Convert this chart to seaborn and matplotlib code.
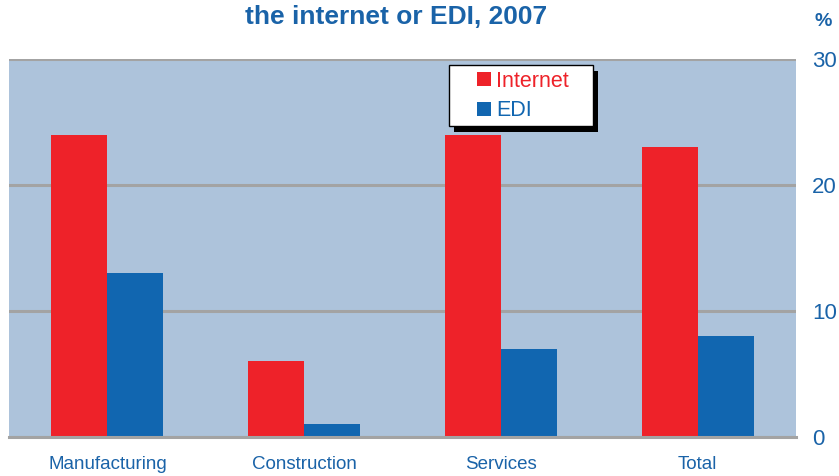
import matplotlib
matplotlib.use("Agg")
import matplotlib.pyplot as plt
import seaborn as sns
import pandas as pd
from matplotlib.patches import Patch, Rectangle

categories = ["Manufacturing", "Construction", "Services", "Total"]
internet = [24, 6, 24, 23]
edi = [13, 1, 7, 8]
series_names = ["Internet", "EDI"]
yticks = [0, 10, 20, 30]

RED = "#EE2229"
BLUE = "#1166B0"
TEXT_BLUE = "#1A63A8"
BG = "#ADC3DB"
GRID = "#A3A3A3"

W, H = 839, 476

df = pd.DataFrame({
    "category": categories * 2,
    "series": [series_names[0]] * len(categories) + [series_names[1]] * len(categories),
    "value": internet + edi,
})

sns.set_theme(style="white")
plt.rcParams["font.family"] = ["Liberation Sans", "DejaVu Sans"]

fig = plt.figure(figsize=(W / 100, H / 100), dpi=100)
ax = fig.add_axes([9 / W, 1 - 437 / H, 787 / W, 378 / H])
ax.set_facecolor(BG)

sns.barplot(data=df, x="category", y="value", hue="series",
            palette=[RED, BLUE], width=0.57, saturation=1,
            ax=ax, legend=False, edgecolor="none", linewidth=0)

ax.set_xlim(-0.5, 3.5)
ax.set_ylim(0, 30)
ax.set_yticks(yticks)
ax.yaxis.tick_right()
ax.set_axisbelow(True)
ax.grid(axis="y", color=GRID, linewidth=2.2)
ax.grid(axis="x", visible=False)
for s in ["top", "left", "right"]:
    ax.spines[s].set_visible(False)
ax.spines["bottom"].set_color(GRID)
ax.spines["bottom"].set_linewidth(2.2)
ax.tick_params(axis="y", length=0, pad=11.5, labelsize=16, labelcolor=TEXT_BLUE)
ax.tick_params(axis="x", length=0, pad=14, labelsize=13.5, labelcolor=TEXT_BLUE)
ax.set_xlabel("")
ax.set_ylabel("")

fig.text(396 / W, 1 - 17 / H, "the internet or EDI, 2007", ha="center", va="center",
         fontsize=19, fontweight="bold", color=TEXT_BLUE)
fig.text(823 / W, 1 - 22 / H, "%", ha="center", va="center",
         fontsize=14, fontweight="bold", color=TEXT_BLUE)

# legend box with a solid drop shadow
bx0, by0, bx1, by1 = 449, 65, 593, 126
fig.patches.append(Rectangle(((bx0 + 5) / W, 1 - (by1 + 6) / H), (bx1 - bx0) / W, (by1 - by0) / H,
                             transform=fig.transFigure, facecolor="black", edgecolor="none", zorder=5))
fig.patches.append(Rectangle((bx0 / W, 1 - by1 / H), (bx1 - bx0) / W, (by1 - by0) / H,
                             transform=fig.transFigure, facecolor="white", edgecolor="black",
                             linewidth=1, zorder=6))

handles = [Patch(facecolor=RED, edgecolor="none"), Patch(facecolor=BLUE, edgecolor="none")]
leg = fig.legend(handles, series_names, loc="center left",
                 bbox_to_anchor=(477 / W, 1 - 96 / H),
                 fontsize=15.5, frameon=False,
                 borderpad=0, handlelength=0.65, handleheight=0.65, handletextpad=0.25,
                 labelspacing=0.4, borderaxespad=0)
leg.set_zorder(7)
for t, c in zip(leg.get_texts(), [RED, BLUE]):
    t.set_color(c)

fig.savefig("out.png", dpi=100)
